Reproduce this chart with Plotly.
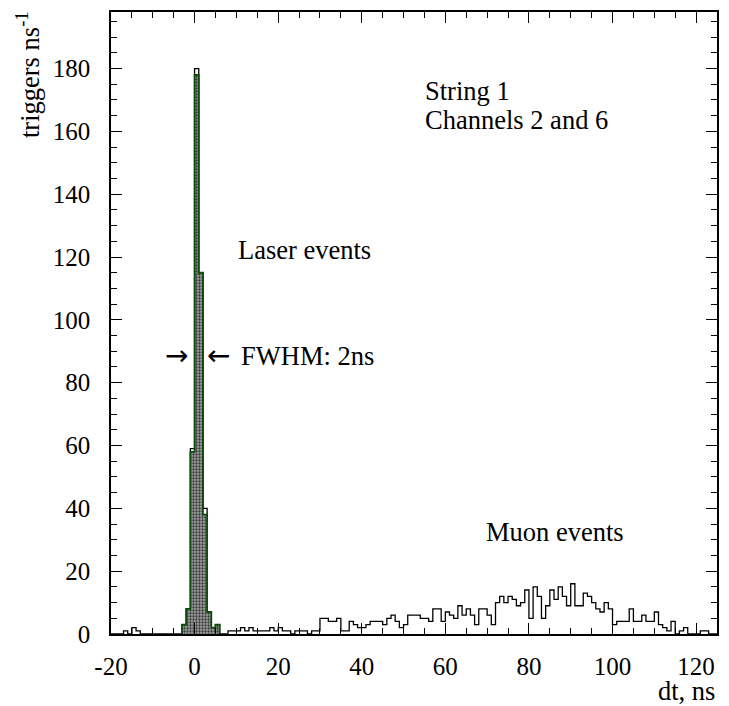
import numpy as np
import plotly.graph_objects as go

# ---- data (1 ns bins, lower edges from -20 to 124) ----
bin_start = -20
counts_neg = [0, 0, 0, 1, 0, 2, 1, 0, 0, 0, 0, 0, 0, 0, 0, 0, 0]          # -20 .. -4
counts_peak = [3, 8, 59, 180, 115, 40, 7, 2, 3]                            # -3 .. 5
counts_low = [0, 0, 1, 1, 1, 2, 1, 2, 1, 1, 1, 1, 2, 1, 2, 1, 1, 0, 1, 1,
              1, 0, 1, 1]                                                  # 6 .. 29
counts_mid = [5, 5, 4, 4, 5, 1, 1, 4, 3, 2, 2, 3, 4, 4, 4, 3, 5, 6, 4, 2,
              3, 6, 6, 6, 5, 5, 4, 8, 8, 4, 7, 6, 5, 9, 6, 8, 6, 3]        # 30 .. 67
counts_high = [8, 8, 6, 3, 10, 12, 10, 12, 11, 9, 10, 14, 5, 15, 12, 5, 9,
               14, 11, 15, 12, 9, 16, 9, 9, 13, 12, 10, 8, 7, 10, 8, 3, 4,
               4, 4, 8, 4, 4, 6, 4, 4, 7, 3, 2, 1, 4, 0, 1, 2, 0, 0, 0, 1,
               1, 0, 0]                                                    # 68 .. 124
laser_start = -3
laser_counts = [3, 8, 58, 178, 115, 38, 7, 2, 3]                           # -3 .. 5

all_counts = counts_neg + counts_peak + counts_low + counts_mid + counts_high
edges = list(range(bin_start, bin_start + len(all_counts) + 1))
laser_edges = list(range(laser_start, laser_start + len(laser_counts) + 1))

x_ticks = [-20, 0, 20, 40, 60, 80, 100, 120]
y_ticks = [0, 20, 40, 60, 80, 100, 120, 140, 160, 180]

FONT = "Liberation Serif"

def step_xy(e, c):
    xs = [e[0]] + list(e[:-1]) + [e[-1], e[-1]]
    ys = [0] + list(c) + [c[-1], 0]
    return xs, ys

fig = go.Figure()

ax, ay = step_xy(edges, all_counts)
fig.add_trace(go.Scatter(x=ax, y=ay, mode="lines", line=dict(color="black", width=1.3, shape="hv"),
                         fill="tozeroy", fillcolor="white", hoverinfo="skip", showlegend=False))

lx, ly = step_xy(laser_edges, laser_counts)
fig.add_trace(go.Scatter(x=lx, y=ly, mode="lines", line=dict(color="#0b4a0b", width=1.8, shape="hv"),
                         fill="tozeroy",
                         fillpattern=dict(shape=".", bgcolor="#a0a0a0", fgcolor="#383838",
                                          size=3, solidity=0.45, fillmode="replace"),
                         hoverinfo="skip", showlegend=False))

txt = dict(family=FONT, size=26.5, color="black")
arrow_font = dict(family="DejaVu Sans", size=28, color="black")
ann = [
    dict(x=54.6, y=173, text="String 1", xanchor="left", yanchor="middle", font=txt),
    dict(x=54.6, y=163.5, text="Channels 2 and 6", xanchor="left", yanchor="middle", font=txt),
    dict(x=9.8, y=122.3, text="Laser events", xanchor="left", yanchor="middle", font=txt),
    dict(x=-1.2, y=88.5, text="\u2192", xanchor="right", yanchor="middle", font=arrow_font),
    dict(x=2.6, y=88.5, text="\u2190", xanchor="left", yanchor="middle", font=arrow_font),
    dict(x=10.6, y=88.5, text="FWHM: 2ns", xanchor="left", yanchor="middle", font=txt),
    dict(x=69.2, y=32.5, text="Muon events", xanchor="left", yanchor="middle", font=txt),
]
for a in ann:
    fig.add_annotation(xref="x", yref="y", showarrow=False, **a)

fig.add_annotation(xref="paper", yref="paper", x=1.0, y=-0.064, text="dt, ns",
                   xanchor="right", yanchor="top", showarrow=False, font=txt)
fig.add_annotation(xref="paper", yref="paper", x=(28 - 111) / 606, y=1.004,
                   text="triggers ns<sup>-1</sup>", textangle=-90,
                   xanchor="center", yanchor="top", showarrow=False, font=txt)

axis_common = dict(showgrid=False, zeroline=False, showline=True, linecolor="black", linewidth=1.5,
                   mirror="allticks", ticks="inside", ticklen=11, tickwidth=1.2, tickcolor="black",
                   tickfont=dict(family=FONT, size=25, color="black"))

fig.update_xaxes(range=[-20, 125], tickvals=x_ticks, ticktext=[str(v) for v in x_ticks],
                 minor=dict(dtick=5, ticks="inside", ticklen=6, tickcolor="black", tickwidth=1.2),
                 ticklabelstandoff=9, **axis_common)
fig.update_yaxes(range=[0, 198], tickvals=y_ticks, ticktext=[str(v) for v in y_ticks],
                 minor=dict(dtick=5, ticks="inside", ticklen=6, tickcolor="black", tickwidth=1.2),
                 ticklabelstandoff=14, **axis_common)

fig.update_layout(width=729, height=706, margin=dict(l=111, r=12, t=10, b=72),
                  paper_bgcolor="white", plot_bgcolor="white", showlegend=False)

fig.write_html("out.html")
